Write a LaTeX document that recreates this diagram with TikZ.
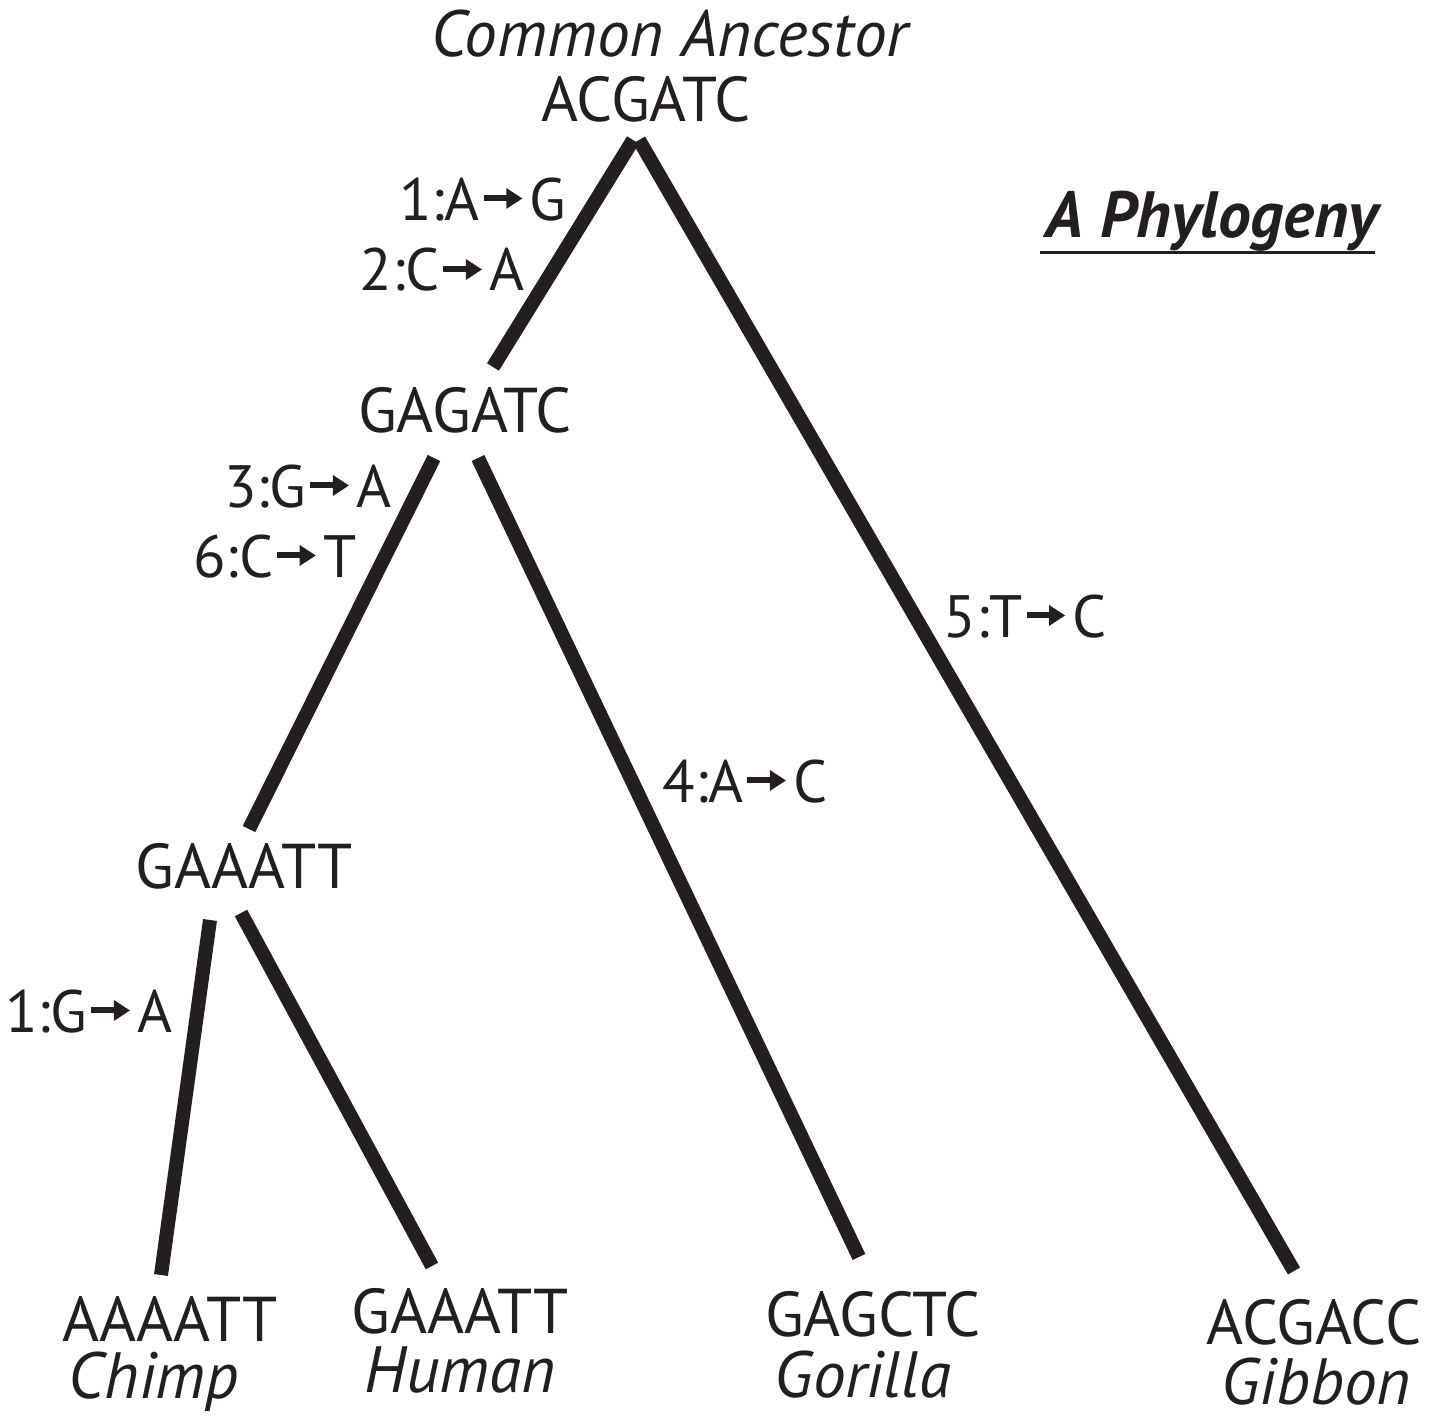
\documentclass[tikz,border=0pt]{standalone}
\usepackage{fontspec}
\setmainfont{PT Sans}
\usetikzlibrary{arrows.meta}
\definecolor{ink}{RGB}{35,31,32}
\newcommand\mutarr{\hspace{0.3pt}\tikz[baseline=-0.36em]\draw[ink,line width=1.7pt,-{Triangle[length=4.6pt,width=5.6pt]}](0,0)--(11pt,0);\hspace{1.2pt}}
\begin{document}
\begin{tikzpicture}[x=0.01cm,y=-0.01cm, every node/.style={text=ink},
  seq/.style={font=\fontsize{18}{20}\selectfont, anchor=base, inner sep=0},
  mut/.style={font=\fontsize{17}{20}\selectfont, inner sep=0},
  sp/.style={font=\fontsize{18.6}{20}\selectfont\itshape, anchor=base, inner sep=0},
  branch/.style={line width=0.14cm, line cap=butt, color=ink}]
\useasboundingbox (0,0) rectangle (1435,1418);
% sequences
\node[sp] (ca) at (670,56) {Common Ancestor};
\node[seq] (root) at (646,121) {ACGATC};
\node[seq] (n1) at (465,432) {GAGATC};
\node[seq] (n2) at (244,888) {GAAATT};
\node[seq] (chimp) at (170,1341) {AAAATT};
\node[sp] (chimpn) at (154,1398) {Chimp};
\node[seq] (human) at (460,1333) {GAAATT};
\node[sp] (humann) at (460,1392) {Human};
\node[seq] (gor) at (873,1336) {GAGCTC};
\node[sp] (gorn) at (863,1397) {Gorilla};
\node[seq] (gib) at (1314,1344) {ACGACC};
\node[sp] (gibn) at (1316,1404) {Gibbon};
% title
\node[font=\fontsize{18.6}{20}\selectfont\bfseries\itshape, anchor=base, inner sep=0] (title) at (1212,237) {A Phylogeny};
\draw[ink, line width=0.03cm] (1040,252) coordinate (ul1) -- (1375,252) coordinate (ul2);
% mutations
\node[mut, anchor=base east] (m1) at (567,220) {1:A\mutarr G};
\node[mut, anchor=base east] (m2) at (525,291) {2:C\mutarr A};
\node[mut, anchor=base east] (m3) at (392,507) {3:G\mutarr A};
\node[mut, anchor=base east] (m6) at (357,577) {6:C\mutarr T};
\node[mut, anchor=base west] (m5) at (943,637) {5:T\mutarr C};
\node[mut, anchor=base west] (m4) at (662,802) {4:A\mutarr C};
\node[mut, anchor=base east] (m1b) at (173,1032) {1:G\mutarr A};
% branch end points
\coordinate (r0a) at (633,140);
\coordinate (r0b) at (639,140);
\coordinate (n1t) at (493,367);
\coordinate (gibt) at (1294,1271);
\coordinate (n1a) at (434,458);
\coordinate (n2t) at (249,829);
\coordinate (n1b) at (478,458);
\coordinate (gort) at (859,1257);
\coordinate (n2a) at (210,920);
\coordinate (chimpt) at (161,1275);
\coordinate (n2b) at (241,913);
\coordinate (humant) at (432,1266);
% branches
\draw[branch] (r0a) -- (n1t);
\draw[branch] (r0b) -- (gibt);
\draw[branch] (n1a) -- (n2t);
\draw[branch] (n1b) -- (gort);
\draw[branch] (n2a) -- (chimpt);
\draw[branch] (n2b) -- (humant);
\end{tikzpicture}
\end{document}
